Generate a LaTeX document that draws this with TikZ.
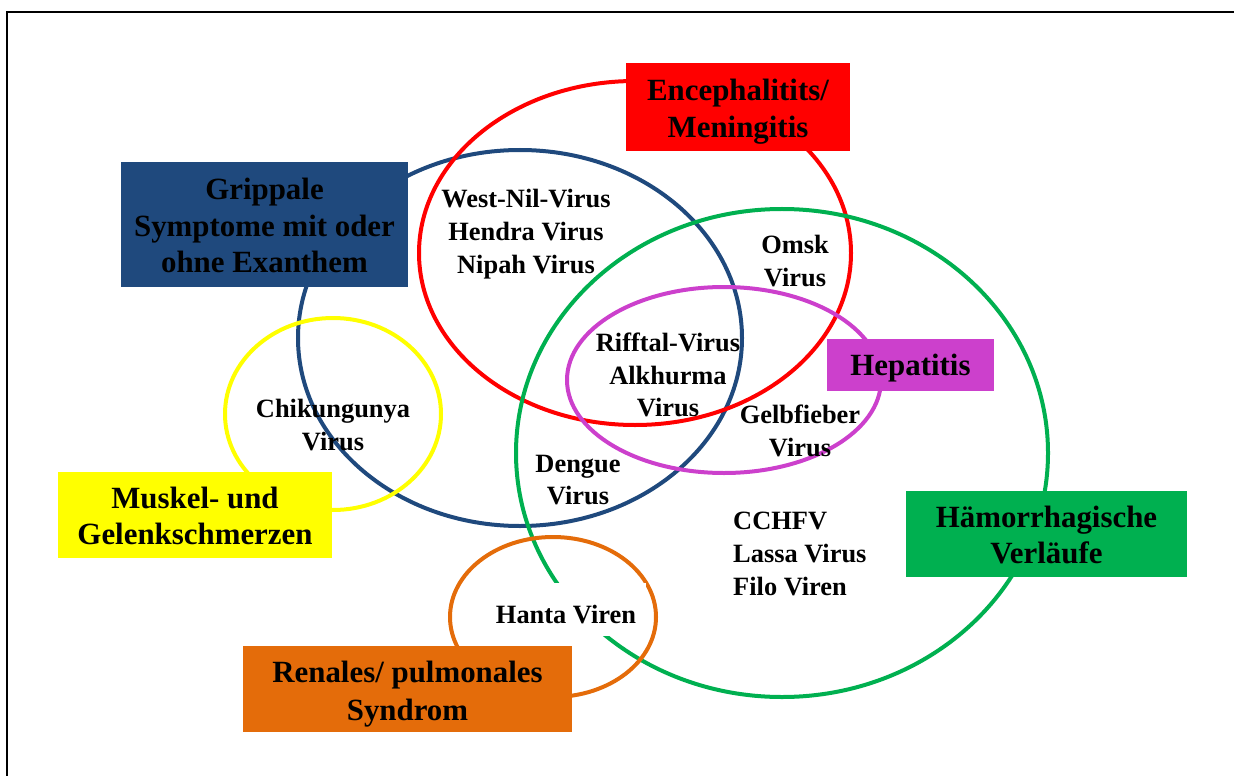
\documentclass[tikz,border=0pt]{standalone}
\usepackage{fontspec}
\setmainfont{Liberation Serif}
\usetikzlibrary{shapes.geometric}
\definecolor{gripblue}{RGB}{31,73,125}
\definecolor{encred}{RGB}{255,0,0}
\definecolor{haemgreen}{RGB}{0,176,80}
\definecolor{hepviolet}{RGB}{204,64,204}
\definecolor{muskyellow}{RGB}{255,255,0}
\definecolor{renorange}{RGB}{228,108,10}
\begin{document}
\begin{tikzpicture}[x=1bp,y=-1bp,
  ring/.style={ellipse, draw=#1, line width=4bp, inner sep=0pt},
  vtext/.style={font=\fontsize{26.5}{33}\selectfont\bfseries, align=center, inner sep=0pt},
  catbox/.style={rectangle, fill=#1, inner sep=0pt},
  ctext/.style={font=\fontsize{31}{37}\selectfont\bfseries, align=center, inner sep=0pt}]
\useasboundingbox (0,0) rectangle (1234,776);
% page frame
\draw[line width=2.5bp, black] (7,776) -- (7,12) -- (1234,12);

% symptom groups
\node[ring=gripblue,   minimum width=444bp, minimum height=376bp] (eGrip) at (520,338) {};
\node[ring=encred,     minimum width=432bp, minimum height=344bp] (eEnc)  at (635,253) {};
\node[ring=haemgreen,  minimum width=532bp, minimum height=488bp] (eHaem) at (782,453) {};
\node[ring=hepviolet,  minimum width=314bp, minimum height=186bp] (eHep)  at (724,380) {};
\node[ring=muskyellow, minimum width=216bp, minimum height=192bp] (eMusk) at (333,414) {};
\node[ring=renorange,  minimum width=206bp, minimum height=160bp] (eRen)  at (553,617) {};

% viruses
\node[vtext] (wnv)   at (526,234) {West-Nil-Virus\\Hendra Virus\\Nipah Virus};
\node[vtext] (omsk)  at (795,261) {Omsk\\Virus};
\node[vtext] (rift)  at (668,375) {Rifftal-Virus\\Alkhurma\\Virus};
\node[vtext] (gelb)  at (800,431) {Gelbfieber\\Virus};
\node[vtext] (chik)  at (333,425) {Chikungunya\\Virus};
\node[vtext] (deng)  at (578,480) {Dengue\\Virus};
\node[vtext, align=left, anchor=west] (cchf) at (733,554) {CCHFV\\Lassa Virus\\Filo Viren};
\node[fill=white, inner sep=0pt, minimum width=160bp, minimum height=53bp] (hantabg) at (566,609) {};
\node[vtext] (hanta) at (566,615) {Hanta Viren};

% category labels
\node[catbox=gripblue,   minimum width=287bp, minimum height=125bp] (bGrip) at (264.5,224.5) {};
\node[catbox=encred,     minimum width=224bp, minimum height=88bp]  (bEnc)  at (738,107) {};
\node[catbox=hepviolet,  minimum width=167bp, minimum height=52bp]  (bHep)  at (910.5,365) {};
\node[catbox=haemgreen,  minimum width=281bp, minimum height=86bp]  (bHaem) at (1046.5,534) {};
\node[catbox=muskyellow, minimum width=274bp, minimum height=86bp]  (bMusk) at (195,515) {};
\node[catbox=renorange,  minimum width=329bp, minimum height=86bp]  (bRen)  at (407.5,689) {};

\node[ctext] (tGrip) at ([yshift=-1bp]bGrip.center) {Grippale\\Symptome mit oder\\ohne Exanthem};
\node[ctext] (tEnc)  at ([yshift=-5bp]bEnc.center)  {Encephalitits/\\Meningitis};
\node[ctext] (tHep)  at ([yshift=-3bp]bHep.center)  {Hepatitis};
\node[ctext] (tHaem) at ([yshift=-1bp]bHaem.center) {Hämorrhagische\\Verläufe};
\node[ctext] (tMusk) at ([yshift=-1bp]bMusk.center) {Muskel- und\\Gelenkschmerzen};
\node[ctext, font=\fontsize{31}{38}\selectfont\bfseries] (tRen) at ([yshift=-5bp]bRen.center) {Renales/ pulmonales\\Syndrom};
\end{tikzpicture}
\end{document}
